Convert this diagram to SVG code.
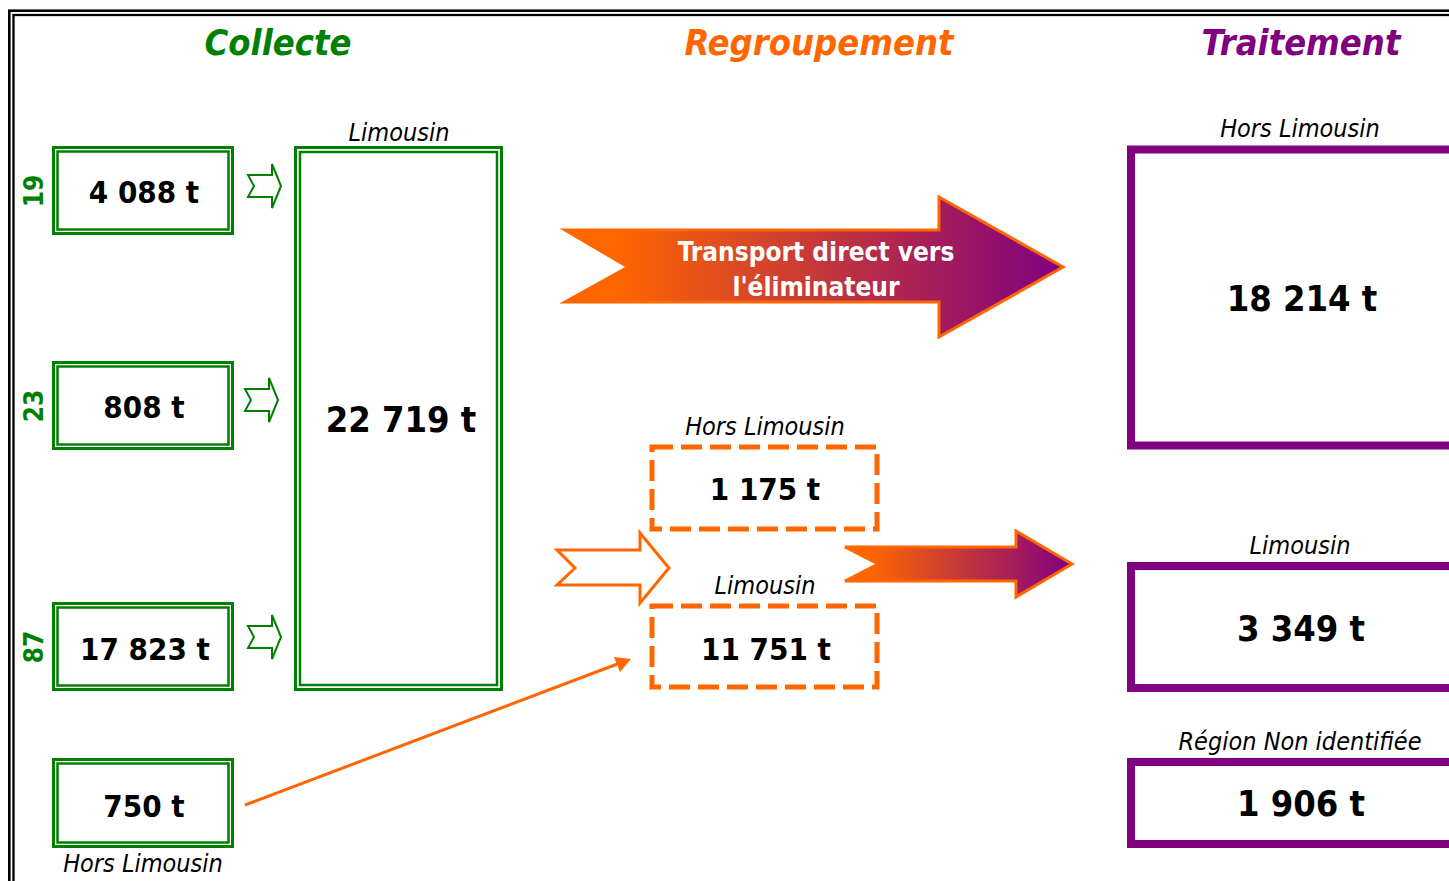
<svg xmlns="http://www.w3.org/2000/svg" width="1449" height="881" viewBox="0 0 1449 881">
  <style>
    text { font-family: "DejaVu Sans Condensed", "DejaVu Sans", sans-serif; font-stretch: condensed; }
    .title { font-size: 36px; font-weight: bold; font-style: italic; text-anchor: middle; }
    .num { font-size: 31px; font-weight: bold; fill: #000; text-anchor: middle; }
    .big { font-size: 36px; font-weight: bold; fill: #000; text-anchor: middle; }
    .lbl { font-size: 25px; font-style: italic; fill: #000; text-anchor: middle; }
    .dept { font-size: 26px; font-weight: bold; fill: #008000; text-anchor: middle; }
    .gOut { fill: none; stroke: #008000; stroke-width: 3; }
    .gIn { fill: none; stroke: #008000; stroke-width: 2.5; }
    .small-arrow { fill: #fff; stroke: #008000; stroke-width: 2; stroke-linejoin: miter; }
    .dash { fill: none; stroke: #FF6600; stroke-width: 5; stroke-dasharray: 21 8; }
    .purple { fill: none; stroke: #800080; stroke-width: 8; }
  </style>
  <defs>
    <linearGradient id="flow" x1="0" y1="0" x2="1" y2="0">
      <stop offset="0.1" stop-color="#FF6600"/>
      <stop offset="1" stop-color="#800080"/>
    </linearGradient>
  </defs>

  <rect width="1449" height="881" fill="#fff"/>
  <!-- double outer frame -->
  <rect x="9.3" y="10.7" width="1500" height="1000" fill="none" stroke="#000" stroke-width="2.6"/>
  <rect x="13.5" y="15" width="1500" height="1000" fill="none" stroke="#000" stroke-width="2.3"/>

  <!-- column titles -->
  <text class="title" x="278" y="55" fill="#008000">Collecte</text>
  <text class="title" x="819" y="55" fill="#FF6600">Regroupement</text>
  <text class="title" x="1301" y="55" fill="#800080">Traitement</text>

  <!-- collection by department -->
  <g id="dept19">
    <text class="dept" transform="translate(43,191) rotate(-90)">19</text>
    <rect class="gOut" x="53.5" y="147.5" width="179" height="86"/>
    <rect class="gIn" x="57.5" y="151.5" width="171" height="78"/>
    <text class="num" x="144" y="203">4 088 t</text>
  </g>
  <g id="dept23">
    <text class="dept" transform="translate(43,406) rotate(-90)">23</text>
    <rect class="gOut" x="53.5" y="362.5" width="179" height="86"/>
    <rect class="gIn" x="57.5" y="366.5" width="171" height="78"/>
    <text class="num" x="144" y="418">808 t</text>
  </g>
  <g id="dept87">
    <text class="dept" transform="translate(43,647) rotate(-90)">87</text>
    <rect class="gOut" x="53.5" y="603.5" width="179" height="86"/>
    <rect class="gIn" x="57.5" y="607.5" width="171" height="78"/>
    <text class="num" x="145" y="660">17 823 t</text>
  </g>
  <g id="horsLimousinCollecte">
    <rect class="gOut" x="53.5" y="759.5" width="179" height="87"/>
    <rect class="gIn" x="57.5" y="763.5" width="171" height="79"/>
    <text class="num" x="144" y="817">750 t</text>
    <text class="lbl" x="143" y="872">Hors Limousin</text>
  </g>

  <g id="limousinTotal">
    <text class="lbl" x="399" y="141">Limousin</text>
    <rect class="gOut" x="295.5" y="147.5" width="206" height="542"/>
    <rect class="gIn" x="300" y="152" width="197" height="533"/>
    <text class="big" x="401" y="432">22 719 t</text>
  </g>

  <!-- regrouping -->
  <g id="regroupHors">
    <text class="lbl" x="765" y="435">Hors Limousin</text>
    <rect class="dash" x="652" y="447" width="225" height="82"/>
    <text class="num" x="765" y="500">1 175 t</text>
  </g>
  <g id="regroupLimousin">
    <text class="lbl" x="765" y="594">Limousin</text>
    <rect class="dash" x="652" y="606" width="225" height="81"/>
    <text class="num" x="766" y="660">11 751 t</text>
  </g>

  <!-- treatment -->
  <g id="traitHors">
    <text class="lbl" x="1300" y="137">Hors Limousin</text>
    <rect class="purple" x="1131" y="149.5" width="400" height="296"/>
    <text class="big" x="1302" y="311">18 214 t</text>
  </g>
  <g id="traitLimousin">
    <text class="lbl" x="1300" y="554">Limousin</text>
    <rect class="purple" x="1131" y="566" width="400" height="122"/>
    <text class="big" x="1301" y="641">3 349 t</text>
  </g>
  <g id="traitInconnu">
    <text class="lbl" x="1300" y="750">Région Non identifiée</text>
    <path class="purple" d="M1131,848 V762 H1500 M1131,844 H1500"/>
    <text class="big" x="1301" y="816">1 906 t</text>
  </g>

  <!-- connectors -->
  <g id="connectors">
    <path class="small-arrow" d="M248,175 H272 V164 L281,186 L272,208 V197 H248 L254,186 Z"/>
    <path class="small-arrow" d="M245,389 H269 V378 L278,400 L269,422 V411 H245 L251,400 Z"/>
    <path class="small-arrow" d="M248,626 H272 V615 L281,637 L272,659 V648 H248 L254,637 Z"/>

    <path d="M565,230 H939 V197 L1063,267 L939,337 V302 H565 L628,267 Z" fill="url(#flow)" stroke="#FF6600" stroke-width="3"/>
    <text x="816" y="261" font-size="26" font-weight="bold" fill="#fff" text-anchor="middle">Transport direct vers</text>
    <text x="816" y="296" font-size="26" font-weight="bold" fill="#fff" text-anchor="middle">l'éliminateur</text>

    <path d="M557,550 H640 V533 L669,568 L640,603 V585 H557 L575,568 Z" fill="#fff" stroke="#FF6600" stroke-width="3"/>

    <path d="M845,547 H1016 V531 L1072,564 L1016,597 V581 H845 L878,564 Z" fill="url(#flow)" stroke="#FF6600" stroke-width="3"/>

    <line x1="245" y1="805" x2="620" y2="663" stroke="#FF6600" stroke-width="3"/>
    <polygon points="631,659 614,657 620,672" fill="#FF6600"/>
  </g>
</svg>
